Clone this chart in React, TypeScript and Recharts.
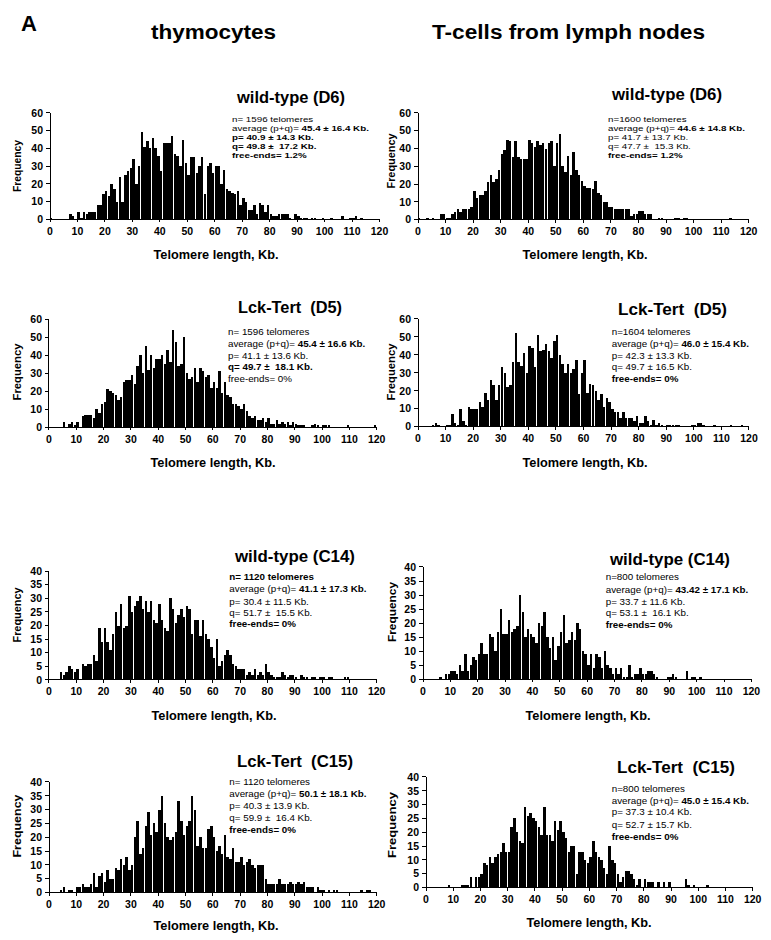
import React from 'react';
import { BarChart, Bar, XAxis, YAxis } from 'recharts';

// 1 Kb bins, bar centred in the middle of each bin
const binCentres = Array.from({ length: 120 }, (_, i) => i + 0.5);
const xTicks = [0, 10, 20, 30, 40, 50, 60, 70, 80, 90, 100, 110, 120];
const yTicks60 = [0, 10, 20, 30, 40, 50, 60];
const yTicks40 = [0, 5, 10, 15, 20, 25, 30, 35, 40];

// telomere counts per 1 Kb bin (0-119 Kb)
const thyWtD6 = [
  1, 0, 0, 0, 0, 0, 0, 3, 2, 0,
  4, 1, 4, 3, 4, 4, 4, 8, 8, 14,
  16, 13, 20, 17, 10, 24, 10, 25, 27, 29,
  34, 20, 30, 49, 41, 44, 40, 46, 40, 36,
  27, 43, 43, 43, 47, 37, 36, 30, 45, 32,
  25, 35, 35, 26, 30, 35, 14, 30, 32, 26,
  30, 30, 20, 28, 17, 16, 15, 14, 16, 8,
  12, 10, 5, 5, 8, 3, 9, 8, 4, 8,
  3, 2, 2, 3, 3, 3, 3, 1, 0, 3,
  2, 1, 1, 1, 0, 1, 1, 0, 0, 1,
  0, 0, 1, 0, 0, 0, 2, 0, 0, 1,
  1, 2, 0, 1, 0, 0, 0, 0, 0, 0,
];
const lnWtD6 = [
  1, 0, 0, 1, 0, 1, 0, 0, 3, 3,
  1, 1, 3, 4, 6, 4, 6, 6, 6, 7,
  16, 12, 14, 14, 16, 21, 25, 21, 23, 28,
  37, 39, 45, 44, 35, 44, 35, 34, 34, 34,
  45, 43, 41, 44, 42, 43, 40, 43, 44, 30,
  43, 48, 30, 27, 36, 25, 38, 28, 25, 22,
  19, 18, 18, 17, 22, 15, 14, 10, 10, 7,
  7, 6, 6, 6, 6, 6, 6, 2, 3, 3,
  5, 5, 3, 3, 3, 0, 0, 1, 1, 0,
  0, 0, 0, 1, 1, 0, 1, 1, 0, 0,
  0, 0, 0, 0, 0, 0, 0, 0, 0, 0,
  0, 0, 0, 1, 0, 0, 0, 0, 0, 0,
];
const thyLckD5 = [
  0, 0, 0, 0, 0, 3, 0, 2, 3, 1,
  3, 0, 6, 7, 7, 7, 5, 10, 8, 13,
  14, 21, 20, 19, 18, 15, 17, 25, 26, 26,
  29, 24, 34, 40, 30, 45, 32, 40, 33, 38,
  38, 40, 35, 43, 36, 54, 47, 34, 35, 50,
  30, 27, 28, 33, 25, 33, 31, 28, 29, 22,
  25, 22, 31, 19, 25, 18, 17, 13, 13, 12,
  10, 13, 9, 6, 5, 6, 4, 4, 5, 3,
  5, 2, 2, 4, 2, 3, 2, 3, 1, 3,
  2, 1, 1, 1, 0, 0, 1, 2, 1, 0,
  1, 1, 1, 0, 0, 0, 0, 0, 0, 1,
  0, 0, 0, 0, 0, 0, 0, 0, 0, 1,
];
const lnLckD5 = [
  0, 0, 0, 0, 0, 1, 2, 1, 0, 0,
  1, 1, 7, 2, 1, 10, 3, 1, 11, 10,
  10, 10, 14, 11, 19, 15, 26, 23, 15, 23,
  33, 30, 22, 23, 36, 52, 36, 34, 41, 30,
  45, 44, 33, 51, 42, 43, 46, 42, 38, 48,
  51, 40, 35, 30, 35, 30, 32, 37, 18, 30,
  37, 19, 24, 23, 20, 15, 18, 11, 16, 14,
  10, 8, 8, 5, 8, 5, 5, 5, 3, 6,
  2, 2, 6, 3, 1, 4, 1, 2, 1, 0,
  1, 1, 1, 1, 1, 0, 0, 0, 0, 1,
  1, 2, 2, 1, 0, 0, 0, 1, 0, 0,
  0, 0, 0, 1, 0, 0, 0, 1, 0, 0,
];
const thyWtC14 = [
  0, 0, 0, 0, 3, 2, 3, 5, 4, 3,
  4, 0, 6, 5, 6, 6, 9, 7, 19, 14,
  19, 14, 11, 17, 25, 20, 28, 19, 20, 31,
  25, 27, 29, 31, 26, 29, 25, 29, 22, 21,
  28, 22, 19, 18, 30, 26, 21, 24, 26, 23,
  27, 26, 17, 22, 22, 16, 22, 17, 15, 12,
  8, 15, 5, 7, 9, 11, 9, 6, 5, 4,
  4, 4, 2, 3, 2, 4, 2, 3, 2, 6,
  3, 2, 1, 1, 1, 3, 2, 1, 2, 2,
  1, 0, 2, 1, 1, 0, 1, 1, 0, 1,
  1, 0, 1, 1, 0, 0, 0, 0, 1, 1,
  0, 0, 0, 0, 0, 0, 0, 0, 0, 0,
];
const lnWtC14 = [
  0, 0, 0, 0, 0, 0, 1, 0, 2, 2,
  3, 3, 2, 5, 3, 9, 3, 5, 8, 7,
  9, 13, 9, 9, 16, 15, 10, 17, 25, 16,
  16, 21, 17, 18, 19, 30, 24, 15, 18, 16,
  15, 13, 20, 19, 24, 15, 11, 15, 7, 12,
  17, 23, 13, 14, 17, 14, 20, 18, 10, 9,
  5, 9, 4, 9, 8, 4, 10, 5, 4, 2,
  4, 2, 4, 1, 1, 5, 1, 2, 2, 4,
  2, 2, 3, 3, 2, 1, 0, 0, 0, 1,
  1, 2, 1, 0, 0, 0, 3, 0, 1, 1,
  0, 1, 0, 0, 0, 0, 0, 0, 0, 0,
  0, 0, 0, 0, 0, 0, 0, 0, 0, 0,
];
const thyLckC15 = [
  0, 0, 0, 0, 1, 2, 0, 1, 1, 0,
  2, 2, 3, 2, 2, 3, 7, 2, 6, 7,
  4, 8, 5, 5, 9, 8, 12, 10, 13, 8,
  10, 20, 26, 14, 16, 24, 29, 21, 25, 22,
  30, 35, 25, 20, 19, 20, 22, 33, 26, 21,
  24, 26, 35, 30, 17, 20, 16, 16, 23, 24,
  20, 15, 17, 14, 21, 13, 12, 16, 11, 11,
  13, 10, 11, 12, 10, 9, 10, 10, 10, 5,
  3, 3, 3, 3, 5, 3, 3, 3, 4, 3,
  3, 4, 3, 4, 2, 2, 2, 0, 2, 1,
  1, 0, 1, 0, 1, 1, 0, 0, 0, 0,
  0, 0, 0, 0, 1, 0, 1, 1, 0, 0,
];
const lnLckC15 = [
  0, 0, 0, 0, 0, 0, 0, 0, 1, 0,
  0, 0, 0, 1, 1, 1, 4, 0, 4, 4,
  5, 9, 8, 11, 9, 11, 12, 13, 16, 13,
  13, 22, 25, 20, 17, 16, 29, 26, 27, 25,
  24, 22, 19, 29, 19, 19, 17, 24, 21, 24,
  20, 18, 13, 15, 15, 5, 13, 13, 10, 9,
  11, 17, 13, 11, 10, 7, 5, 15, 10, 9,
  5, 2, 4, 6, 6, 5, 3, 1, 3, 0,
  3, 2, 2, 2, 0, 2, 0, 2, 0, 2,
  0, 0, 0, 0, 0, 3, 1, 0, 1, 0,
  0, 0, 0, 1, 0, 0, 0, 0, 0, 0,
  0, 0, 0, 0, 0, 0, 0, 0, 0, 0,
];

const FONT = '"Liberation Sans", Arial, Helvetica, sans-serif';

type Seg = [string, boolean];

type Panel = {
  counts: number[];
  yMax: number;
  yTicks: number[];
  x0: number; x1: number; yTop: number; yBot: number;
  title: string; titleX: number; titleY: number; titleW: number;
  notes: Seg[][]; noteX: number; noteY: number[]; noteSy: number;
  freqX: number; freqY: number; freqW: number;
  kbX: number; kbY: number;
};

const panels: Panel[] = [
  {
    counts: thyWtD6, yMax: 60, yTicks: yTicks60,
    x0: 49.5, x1: 379, yTop: 112.7, yBot: 219,
    title: 'wild-type (D6)', titleX: 237, titleY: 103, titleW: 108,
    notes: [
      [['n= 1596 telomeres', false]],
      [['average (p+q)= ', false], ['45.4 ± 16.4 Kb.', true]],
      [['p= 40.9 ± 14.3 Kb.', true]],
      [['q= 49.8 ±  17.2 Kb.', true]],
      [['free-ends= 1.2%', true]],
    ],
    noteX: 232, noteY: [121.5, 130.5, 139.5, 148.5, 157.5], noteSy: 0.78,
    freqX: 17, freqY: 166, freqW: 52, kbX: 216, kbY: 255,
  },
  {
    counts: lnWtD6, yMax: 60, yTicks: yTicks60,
    x0: 418.3, x1: 749, yTop: 112.7, yBot: 219.3,
    title: 'wild-type (D6)', titleX: 612, titleY: 100, titleW: 110,
    notes: [
      [['n=1600 telomeres', false]],
      [['average (p+q)= ', false], ['44.6 ± 14.8 Kb.', true]],
      [['p= 41.7 ± 13.7 Kb.', false]],
      [['q= 47.7 ±  15.3 Kb.', false]],
      [['free-ends= 1.2%', true]],
    ],
    noteX: 608, noteY: [121.5, 130.5, 139.5, 148.5, 157.5], noteSy: 0.78,
    freqX: 391, freqY: 161, freqW: 55, kbX: 585, kbY: 255,
  },
  {
    counts: thyLckD5, yMax: 60, yTicks: yTicks60,
    x0: 49.3, x1: 377, yTop: 319, yBot: 427.3,
    title: 'Lck-Tert  (D5)', titleX: 238, titleY: 313, titleW: 104,
    notes: [
      [['n= 1596 telomeres', false]],
      [['average (p+q)= ', false], ['45.4 ± 16.6 Kb.', true]],
      [['p= 41.1 ± 13.6 Kb.', false]],
      [['q= 49.7 ±  18.1 Kb.', true]],
      [['free-ends= 0%', false]],
    ],
    noteX: 228, noteY: [335, 347, 358.5, 370, 382], noteSy: 1,
    freqX: 17, freqY: 372, freqW: 57, kbX: 213, kbY: 463,
  },
  {
    counts: lnLckD5, yMax: 60, yTicks: yTicks60,
    x0: 418.3, x1: 749.3, yTop: 319, yBot: 426.7,
    title: 'Lck-Tert  (D5)', titleX: 618, titleY: 315, titleW: 109,
    notes: [
      [['n=1604 telomeres', false]],
      [['average (p+q)= ', false], ['46.0 ± 15.4 Kb.', true]],
      [['p= 42.3 ± 13.3 Kb.', false]],
      [['q= 49.7 ± 16.5 Kb.', false]],
      [['free-ends= 0%', true]],
    ],
    noteX: 611.7, noteY: [335, 347, 358.5, 370, 382], noteSy: 1,
    freqX: 391, freqY: 372, freqW: 57, kbX: 585, kbY: 463,
  },
  {
    counts: thyWtC14, yMax: 40, yTicks: yTicks40,
    x0: 49.3, x1: 377, yTop: 571, yBot: 680,
    title: 'wild-type (C14)', titleX: 235, titleY: 561.5, titleW: 120,
    notes: [
      [['n= 1120 telomeres', true]],
      [['average (p+q)= ', false], ['41.1 ± 17.3 Kb.', true]],
      [['p= 30.4 ± 11.5 Kb.', false]],
      [['q= 51.7 ±  15.5 Kb.', false]],
      [['free-ends= 0%', true]],
    ],
    noteX: 229.3, noteY: [580, 592, 604.5, 615.5, 627], noteSy: 1,
    freqX: 17, freqY: 615, freqW: 55, kbX: 214, kbY: 716,
  },
  {
    counts: lnWtC14, yMax: 40, yTicks: yTicks40,
    x0: 423.3, x1: 751.7, yTop: 567.3, yBot: 679.7,
    title: 'wild-type (C14)', titleX: 610, titleY: 565, titleW: 120,
    notes: [
      [['n=800 telomeres', false]],
      [['average (p+q)= ', false], ['43.42 ± 17.1 Kb.', true]],
      [['p= 33.7 ± 11.6 Kb.', false]],
      [['q= 53.1 ±  16.1 Kb.', false]],
      [['free-ends= 0%', true]],
    ],
    noteX: 605.7, noteY: [580, 592.5, 604.5, 616, 628], noteSy: 1,
    freqX: 392, freqY: 612, freqW: 60, kbX: 588, kbY: 716,
  },
  {
    counts: thyLckC15, yMax: 40, yTicks: yTicks40,
    x0: 49.3, x1: 377, yTop: 781.7, yBot: 892.3,
    title: 'Lck-Tert  (C15)', titleX: 237, titleY: 766.5, titleW: 116,
    notes: [
      [['n= 1120 telomeres', false]],
      [['average (p+q)= ', false], ['50.1 ± 18.1 Kb.', true]],
      [['p= 40.3 ± 13.9 Kb.', false]],
      [['q= 59.9 ±  16.4 Kb.', false]],
      [['free-ends= 0%', true]],
    ],
    noteX: 229.3, noteY: [785, 797, 808.5, 821, 832.5], noteSy: 1,
    freqX: 17, freqY: 826, freqW: 63, kbX: 216, kbY: 926,
  },
  {
    counts: lnLckC15, yMax: 40, yTicks: yTicks40,
    x0: 426, x1: 752.7, yTop: 776.7, yBot: 887.3,
    title: 'Lck-Tert  (C15)', titleX: 617, titleY: 773, titleW: 118,
    notes: [
      [['n=800 telomeres', false]],
      [['average (p+q)= ', false], ['45.0 ± 15.4 Kb.', true]],
      [['p= 37.3 ± 10.4 Kb.', false]],
      [['q= 52.7 ± 15.7 Kb.', false]],
      [['free-ends= 0%', true]],
    ],
    noteX: 611.7, noteY: [791.5, 803.5, 815, 827.5, 839.5], noteSy: 1,
    freqX: 392, freqY: 825, freqW: 66, kbX: 589, kbY: 923,
  },
];

const YW = 40;
const XH = 30;
const PAD_T = 6;
const PAD_R = 14;

const tickStyle = { fill: '#000', fontSize: 10.5, fontWeight: 700, fontFamily: FONT };

function Histogram({ p }: { p: Panel }) {
  const rows = binCentres.map((kb, i) => ({ kb, n: p.counts[i] }));
  const plotW = p.x1 - p.x0;
  const plotH = p.yBot - p.yTop;
  return (
    // crispEdges stops the light seams between touching bars
    <div style={{ position: 'absolute', left: p.x0 - YW, top: p.yTop - PAD_T, shapeRendering: 'crispEdges' }}>
      <BarChart
        width={plotW + YW + PAD_R}
        height={plotH + PAD_T + XH}
        data={rows}
        margin={{ top: PAD_T, right: PAD_R, bottom: 0, left: 0 }}
        barCategoryGap={0}
        barGap={0}
      >
        <XAxis
          dataKey="kb"
          type="number"
          domain={[0, 120]}
          ticks={xTicks}
          interval={0}
          height={XH}
          allowDataOverflow
          tickSize={3}
          tickMargin={5}
          axisLine={{ stroke: '#000' }}
          tickLine={{ stroke: '#000' }}
          tick={tickStyle}
        />
        <YAxis
          type="number"
          domain={[0, p.yMax]}
          ticks={p.yTicks}
          interval={0}
          width={YW}
          tickSize={4}
          tickMargin={3}
          axisLine={{ stroke: '#000' }}
          tickLine={{ stroke: '#000' }}
          tick={tickStyle}
        />
        <Bar dataKey="n" fill="#000" barSize={plotW / 120} isAnimationActive={false} />
      </BarChart>
    </div>
  );
}

function PanelText({ p }: { p: Panel }) {
  return (
    <g fontFamily={FONT} fill="#000">
      <text x={p.titleX} y={p.titleY} fontSize={16} fontWeight={700}
        textLength={p.titleW} lengthAdjust="spacingAndGlyphs" style={{ whiteSpace: 'pre' }}>
        {p.title}
      </text>
      {p.notes.map((line, i) => (
        <text
          key={i}
          x={0}
          y={0}
          fontSize={9.8}
          style={{ whiteSpace: 'pre' }}
          transform={`translate(${p.noteX} ${p.noteY[i]}) scale(1 ${p.noteSy})`}
        >
          {line.map(([t, b], j) => (
            <tspan key={j} fontWeight={b ? 700 : 400}>{t}</tspan>
          ))}
        </text>
      ))}
      <text
        x={p.freqX}
        y={p.freqY}
        fontSize={11}
        fontWeight={700}
        textAnchor="middle"
        dominantBaseline="central"
        textLength={p.freqW}
        lengthAdjust="spacingAndGlyphs"
        transform={`rotate(-90 ${p.freqX} ${p.freqY})`}
      >
        Frequency
      </text>
      <text x={p.kbX} y={p.kbY} fontSize={12} fontWeight={700} textAnchor="middle"
        dominantBaseline="central" textLength={125} lengthAdjust="spacingAndGlyphs">
        Telomere length, Kb.
      </text>
    </g>
  );
}

export default function App() {
  return (
    <div style={{ position: 'absolute', left: 0, top: 0, width: 771, height: 940, background: '#fff', overflow: 'hidden' }}>
      {panels.map((p, i) => (
        <Histogram key={i} p={p} />
      ))}
      <svg width={771} height={940} style={{ position: 'absolute', left: 0, top: 0, pointerEvents: 'none' }}>
        <text x={21} y={31} fontFamily={FONT} fontSize={22} fontWeight={700}>A</text>
        <text x={151} y={39} fontFamily={FONT} fontSize={20} fontWeight={700}
          textLength={125} lengthAdjust="spacingAndGlyphs">thymocytes</text>
        <text x={432} y={39} fontFamily={FONT} fontSize={20} fontWeight={700}
          textLength={273} lengthAdjust="spacingAndGlyphs">T-cells from lymph nodes</text>
        {panels.map((p, i) => (
          <PanelText key={i} p={p} />
        ))}
      </svg>
    </div>
  );
}
